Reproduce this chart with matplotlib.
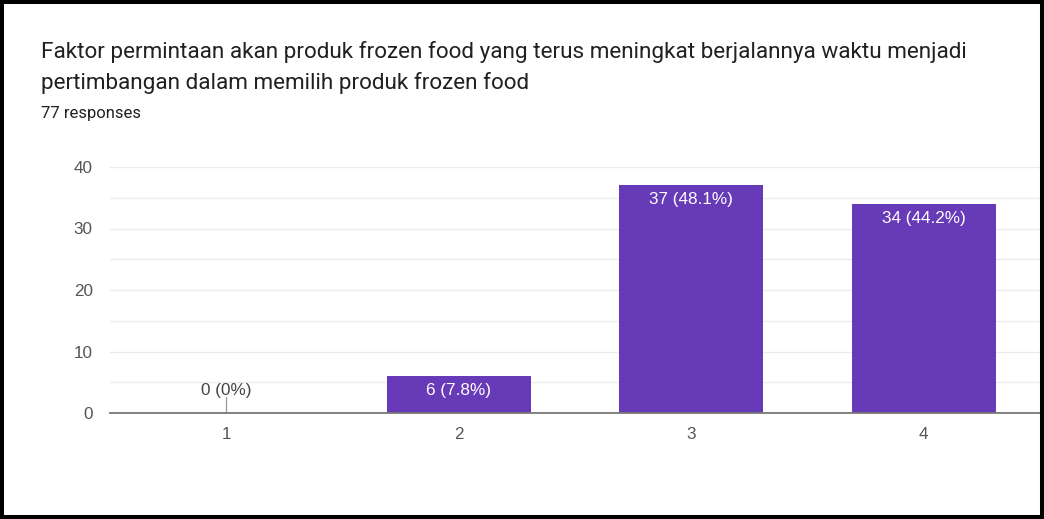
import matplotlib
matplotlib.use("Agg")
import matplotlib.pyplot as plt
from matplotlib.patches import Rectangle
from matplotlib.ticker import MultipleLocator

categories = ["1", "2", "3", "4"]
counts = [0, 6, 37, 34]
labels = ["0 (0%)", "6 (7.8%)", "37 (48.1%)", "34 (44.2%)"]
title_lines = ["Faktor permintaan akan produk frozen food yang terus meningkat berjalannya waktu menjadi",
               "pertimbangan dalam memilih produk frozen food"]
subtitle = "77 responses"
yticks = [0, 10, 20, 30, 40]

plt.rcParams['font.family'] = ['Liberation Sans', 'DejaVu Sans']
TITLE_FONT = ['Roboto', 'DejaVu Sans']

W, H = 1044, 519
fig = plt.figure(figsize=(W / 100, H / 100), dpi=100)
fig.patch.set_facecolor("white")

def fy(px):
    return 1 - px / H

ax = fig.add_axes([110 / W, fy(413), 930 / W, (413 - 167) / H])
xpos = list(range(1, len(categories) + 1))
ax.bar(xpos, counts, width=0.62, color="#673ab7", zorder=3)
ax.set_xlim(0.5, 4.5)
ax.set_ylim(0, 40)
ax.set_yticks(yticks)
ax.yaxis.set_minor_locator(MultipleLocator(5))
ax.set_xticks(xpos)
ax.set_xticklabels(categories)
ax.grid(axis="y", which="both", color="#ebebeb", linewidth=1, zorder=0)
for s in ["top", "right", "left"]:
    ax.spines[s].set_visible(False)
ax.spines["bottom"].set_color("#777777")
ax.spines["bottom"].set_linewidth(1.3)
ax.spines["bottom"].set_zorder(4)
ax.tick_params(axis="both", which="both", length=0, labelsize=12.3, labelcolor="#555555")
ax.tick_params(axis="y", pad=12.5)
ax.tick_params(axis="x", pad=10)

for x, c, lab in zip(xpos, counts, labels):
    if c > 0:
        ax.annotate(lab, (x, c), xytext=(0, -13.7), textcoords="offset points",
                    ha="center", va="baseline", color="white", fontsize=12.3, zorder=5)
    else:
        ax.annotate(lab, (x, c), xytext=(0, 13), textcoords="offset points",
                    ha="center", va="baseline", color="#444444", fontsize=12.3, zorder=5)
        ax.plot([x, x], [0, 16 / 6.15], color="#999999", linewidth=0.9, zorder=4)

fig.text(41 / W, fy(58), title_lines[0], fontsize=16.2, color="#202124", va="baseline", ha="left", family=TITLE_FONT)
fig.text(41 / W, fy(89), title_lines[1], fontsize=16.2, color="#202124", va="baseline", ha="left", family=TITLE_FONT)
fig.text(41 / W, fy(118), subtitle, fontsize=12, color="#202124", va="baseline", ha="left", family=TITLE_FONT)

fig.patches.append(Rectangle((2 / W, 2 / H), (W - 4) / W, (H - 4) / H, transform=fig.transFigure,
                             fill=False, edgecolor="black", linewidth=2.9, zorder=10))

fig.savefig("out.png", dpi=100, facecolor="white")
